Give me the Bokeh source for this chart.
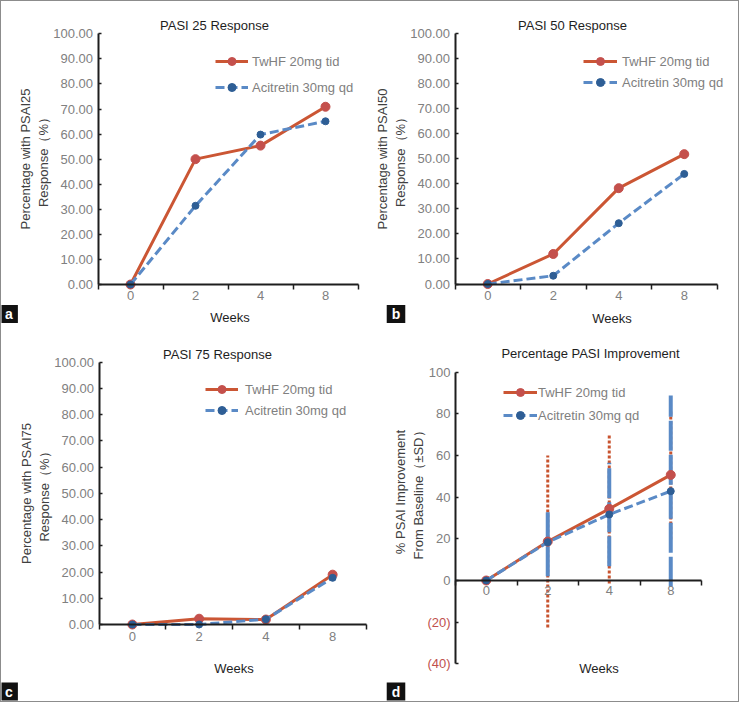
import numpy as np
from bokeh.plotting import figure
from bokeh.layouts import column, row
from bokeh.models import (FixedTicker, NumeralTickFormatter, Legend, LegendItem,
                          Label, LinearAxis, Range1d)
from bokeh.embed import file_html
from bokeh.resources import INLINE

# ---------------- data ----------------
weeks = ["0", "2", "4", "8"]
series_names = ["TwHF 20mg tid", "Acitretin 30mg qd"]

pasi25_twhf = [0.0, 50.0, 55.4, 70.9]
pasi25_acit = [0.0, 31.4, 59.8, 65.1]
pasi50_twhf = [0.0, 12.0, 38.3, 51.9]
pasi50_acit = [0.0, 3.3, 24.3, 44.0]
pasi75_twhf = [0.0, 2.2, 1.9, 19.0]
pasi75_acit = [0.0, 0.0, 2.0, 17.8]
impr_twhf = [0.0, 18.7, 34.4, 50.7]
impr_acit = [0.0, 18.4, 31.7, 42.9]
impr_twhf_sd = [0.0, 41.3, 35.8, 31.0]
impr_acit_sd = [0.0, 16.3, 24.8, 45.9]

resp_ticks = [0, 10, 20, 30, 40, 50, 60, 70, 80, 90, 100]
impr_ticks = [0, 20, 40, 60, 80, 100]
impr_neg_ticks = [-20, -40]

# ---------------- style ----------------
FONT = "Liberation Sans"
RED_LINE = "#CB5634"
RED_MK = "#C4504C"
BLUE_LINE = "#5A8AC6"
BLUE_MK = "#2E5E95"
GREY = "#808080"
DARK = "#1E1E1E"
AXIS_LBL = "#404040"
NEG_RED = "#C0504D"

n = len(weeks)
xs = list(range(n))
bounds_x = (-0.5, n - 0.5)


def make_panel(W, H, ox, oy, xL, xR, y0, y100, yb):
    """Frame covers the whole figure; ranges chosen so the axes sit where wanted."""
    kx = (xR - xL) / n
    ky = (y0 - y100) / 100.0
    xr = Range1d(bounds_x[0] - (xL - ox) / kx, bounds_x[1] + (ox + W - xR) / kx)
    yr = Range1d(-(oy + H - y0) / ky, 100 + (y100 - oy) / ky)
    p = figure(width=W, height=H, x_range=xr, y_range=yr, title=None,
               output_backend="svg", toolbar_location=None,
               min_border_left=0, min_border_right=0, min_border_top=0,
               min_border_bottom=0, outline_line_color=None,
               background_fill_color="white", border_fill_color="white")
    p.grid.visible = False

    # x axis: line + boundary ticks
    xa = p.xaxis[0]
    xa.fixed_location = 0
    xa.bounds = bounds_x
    xa.ticker = FixedTicker(ticks=[i - 0.5 for i in range(n + 1)])
    xa.major_label_overrides = {i - 0.5: "" for i in range(n + 1)}
    xa.axis_line_width = 2
    xa.axis_line_color = DARK
    xa.major_tick_in = 0
    xa.major_tick_out = 5
    xa.major_tick_line_color = DARK
    xa.major_tick_line_width = 1.5
    xa.minor_tick_line_color = None
    xa.major_label_text_font_size = "1px"
    xa.major_label_standoff = 0

    # y axis
    ya = p.yaxis[0]
    ya.fixed_location = bounds_x[0]
    ya.bounds = yb
    ya.axis_line_width = 2
    ya.axis_line_color = DARK
    ya.major_tick_in = 3
    ya.major_tick_out = 0
    ya.major_tick_line_color = DARK
    ya.major_tick_line_width = 1.5
    ya.minor_tick_line_color = None
    ya.major_label_text_color = GREY
    ya.major_label_text_font = FONT
    ya.major_label_text_font_size = "13px"
    ya.major_label_standoff = 5
    return p


def add_week_labels(p, standoff, label_standoff, center):
    hi = p.x_range.end - 1e-3
    lo = 2 * center - hi
    la = LinearAxis(fixed_location=0, bounds=(lo, hi),
                    ticker=FixedTicker(ticks=xs),
                    major_label_overrides={i: wk for i, wk in enumerate(weeks)},
                    axis_line_color=None, major_tick_line_color=None,
                    minor_tick_line_color=None, major_tick_in=0, major_tick_out=0,
                    major_label_text_color=GREY, major_label_text_font=FONT,
                    major_label_text_font_size="13px", major_label_standoff=standoff,
                    axis_label="Weeks", axis_label_text_font=FONT,
                    axis_label_text_font_size="13px", axis_label_text_font_style="normal",
                    axis_label_text_color=DARK, axis_label_standoff=label_standoff)
    p.add_layout(la, "below")


def set_ylabel(ax, text, standoff):
    ax.axis_label = text
    ax.axis_label_text_font = FONT
    ax.axis_label_text_font_size = "13px"
    ax.axis_label_text_font_style = "normal"
    ax.axis_label_text_color = AXIS_LBL
    ax.axis_label_text_line_height = 1.15
    ax.axis_label_standoff = standoff


def add_series(p, twhf, acit, leg_loc, leg_spacing, glyph_w, leg_standoff):
    r1 = p.line(xs, twhf, line_color=RED_LINE, line_width=3)
    m1 = p.scatter(xs, twhf, size=9, fill_color=RED_MK, line_color=RED_MK)
    r2 = p.line(xs, acit, line_color=BLUE_LINE, line_width=3, line_dash="9 4")
    m2 = p.scatter(xs, acit, size=7, fill_color=BLUE_MK, line_color=BLUE_MK)
    leg = Legend(items=[LegendItem(label=series_names[0], renderers=[r1, m1]),
                        LegendItem(label=series_names[1], renderers=[r2, m2])],
                 location=leg_loc, glyph_width=glyph_w, glyph_height=20, label_height=20,
                 label_standoff=leg_standoff, spacing=leg_spacing, padding=0, margin=0,
                 border_line_color=None, background_fill_alpha=0,
                 label_text_font=FONT, label_text_font_size="13px",
                 label_text_color=GREY)
    p.add_layout(leg)


def add_title(p, text, xy):
    p.add_layout(Label(x=xy[0], y=xy[1], x_units="screen", y_units="screen", text=text,
                       text_align="center", text_baseline="middle", text_color=DARK,
                       text_font=FONT, text_font_size="13px"))


def add_letter(p, letter, xy):
    p.add_layout(Label(x=xy[0], y=xy[1], x_units="screen", y_units="screen", text=letter,
                       text_align="center", text_baseline="middle",
                       text_color="white", text_font=FONT, text_font_size="14px",
                       text_font_style="bold", background_fill_color="#111111",
                       padding=(5, 1)))


# ---------- panel a ----------
pa = make_panel(369, 339, 1, 1, 97.5, 357.5, 284, 33.3, (0, 100))
pa.yaxis[0].ticker = FixedTicker(ticks=resp_ticks)
pa.yaxis[0].formatter = NumeralTickFormatter(format="0.00")
set_ylabel(pa.yaxis[0], "Percentage with PSAI25\nResponse（%）", 0)
add_week_labels(pa, 6, 7, 1.53)
add_series(pa, pasi25_twhf, pasi25_acit, (214, 243), 6, 33, 4)
add_title(pa, "PASI 25 Response", (213, 315))
add_letter(pa, "a", (7.5, 26.5))

# ---------- panel b ----------
pb = make_panel(368, 339, 370, 1, 454.5, 716.5, 283.5, 33.3, (0, 100))
pb.yaxis[0].ticker = FixedTicker(ticks=resp_ticks)
pb.yaxis[0].formatter = NumeralTickFormatter(format="0.00")
set_ylabel(pb.yaxis[0], "Percentage with PSAI50\nResponse（%）", 0)
add_week_labels(pb, 7, 7, 1.90)
add_series(pb, pasi50_twhf, pasi50_acit, (213, 248), 1, 34, 5)
add_title(pb, "PASI 50 Response", (202, 315))
add_letter(pb, "b", (25.5, 26.5))

# ---------- panel c ----------
pc = make_panel(369, 361, 1, 340, 98.5, 365.5, 624, 361.7, (0, 100))
pc.yaxis[0].ticker = FixedTicker(ticks=resp_ticks)
pc.yaxis[0].formatter = NumeralTickFormatter(format="0.00")
set_ylabel(pc.yaxis[0], "Percentage with PSAI75\nResponse（%）", 0)
add_week_labels(pc, 7, 17, 1.52)
add_series(pc, pasi75_twhf, pasi75_acit, (204, 281), 1, 33, 7)
add_title(pc, "PASI 75 Response", (216, 347))
add_letter(pc, "c", (7.5, 10))

# ---------- panel d ----------
pd_ = make_panel(368, 361, 370, 340, 455, 701, 580, 371.7, (-40, 100))
pd_.yaxis[0].ticker = FixedTicker(ticks=impr_ticks)

neg_axis = LinearAxis(fixed_location=bounds_x[0], bounds=(-40, 100),
                      ticker=FixedTicker(ticks=impr_neg_ticks),
                      major_label_overrides={t: "(%d)" % abs(t) for t in impr_neg_ticks},
                      axis_line_color=None, major_tick_in=3, major_tick_out=0,
                      major_tick_line_color=DARK, major_tick_line_width=1.5,
                      minor_tick_line_color=None, major_label_text_color=NEG_RED,
                      major_label_text_font=FONT, major_label_text_font_size="13px",
                      major_label_standoff=5)
pd_.add_layout(neg_axis, "left")

lbl_axis = LinearAxis(fixed_location=bounds_x[0], bounds=(-15, 100),
                      ticker=FixedTicker(ticks=[]), axis_line_color=None,
                      major_tick_line_color=None, minor_tick_line_color=None,
                      major_label_standoff=0, major_tick_in=0, major_tick_out=0)
set_ylabel(lbl_axis, "% PSAI Improvement\nFrom Baseline（±SD）", 30)
pd_.add_layout(lbl_axis, "left")

tw = np.array(impr_twhf)
tw_sd = np.array(impr_twhf_sd)
ac = np.array(impr_acit)
ac_sd = np.array(impr_acit_sd)
pd_.segment(x0=xs[1:], y0=list(tw[1:] - tw_sd[1:]), x1=xs[1:], y1=list(tw[1:] + tw_sd[1:]),
            line_color="#C8532E", line_width=3, line_dash="3 2")
pd_.segment(x0=xs[1:], y0=list(ac[1:] - ac_sd[1:]), x1=xs[1:], y1=list(ac[1:] + ac_sd[1:]),
            line_color=BLUE_LINE, line_width=4, line_dash="30 4")
add_week_labels(pd_, 5, 63, 1.83)
add_series(pd_, impr_twhf, impr_acit, (133, 276), 3, 34, 1)
add_title(pd_, "Percentage PASI Improvement", (220, 348))
add_letter(pd_, "d", (25.5, 10))

layout = column(row(pa, pb), row(pc, pd_), styles={"border": "1px solid #8c8c8c"})

open("out.html", "w").write(file_html(layout, INLINE))
